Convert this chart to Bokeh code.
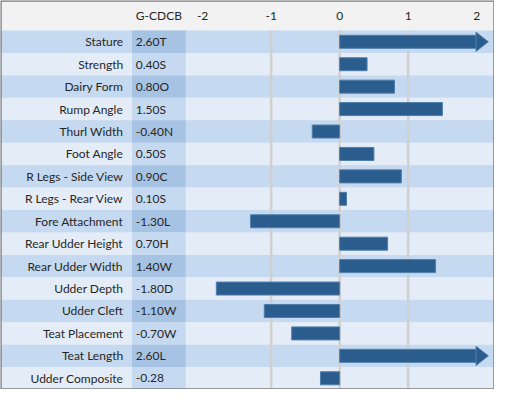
from bokeh.plotting import figure
from bokeh.models import Range1d, ColumnDataSource
from bokeh.core.properties import value
from bokeh.embed import file_html
from bokeh.resources import INLINE

traits = ["Stature", "Strength", "Dairy Form", "Rump Angle", "Thurl Width",
          "Foot Angle", "R Legs - Side View", "R Legs - Rear View",
          "Fore Attachment", "Rear Udder Height", "Rear Udder Width",
          "Udder Depth", "Udder Cleft", "Teat Placement", "Teat Length",
          "Udder Composite"]
scores = [2.60, 0.40, 0.80, 1.50, -0.40, 0.50, 0.90, 0.10, -1.30, 0.70,
          1.40, -1.80, -1.10, -0.70, 2.60, -0.28]
score_labels = ["2.60T", "0.40S", "0.80O", "1.50S", "-0.40N", "0.50S",
                "0.90C", "0.10S", "-1.30L", "0.70H", "1.40W", "-1.80D",
                "-1.10W", "-0.70W", "2.60L", "-0.28"]
axis_ticks = [-2, -1, 0, 1, 2]
grid_ticks = [-1, 0, 1]
column_header = "G-CDCB"

# layout constants (data units)
X0, X1 = -4.95, 2.26
HEAD_TOP = -1.84
CAP = 2.0
TIP = 2.17
LABEL_X = -3.16
VAL_X = -2.975
VCOL_L, VCOL_R = -3.03, -2.2475
BAR_H = 0.58
HEAD_H = 0.43

n = len(traits)
idx = list(range(n))
header_y = (HEAD_TOP + -0.5) / 2

FONT = "Lato"
TXT = "#262626"
DARK = "#c5d9f0"
LIGHT = "#e4ecf7"
VDARK = "#a6c3e3"
VLIGHT = "#c5d9f0"
BAR = "#2b5c8e"
BAR_EDGE = "#4f7eab"

p = figure(width=494, height=389, output_backend="svg", toolbar_location=None,
           x_range=Range1d(X0, X1), y_range=Range1d(n - 0.5, HEAD_TOP),
           min_border=0)
p.background_fill_color = LIGHT
p.border_fill_color = "white"
p.outline_line_color = None
p.grid.visible = False
p.axis.visible = False

# header band
p.hbar(y=[header_y], left=X0 - 1, right=X1 + 1, height=-0.5 - HEAD_TOP,
       color="#f2f2f2", line_color=None)

band_colors = [DARK if i % 2 == 0 else LIGHT for i in idx]
vcol_colors = [VDARK if i % 2 == 0 else VLIGHT for i in idx]
p.hbar(y=idx, left=X0 - 1, right=X1 + 1, height=1.0, color=band_colors, line_color=None)
p.hbar(y=idx, left=VCOL_L, right=VCOL_R, height=1.0, color=vcol_colors, line_color=None)

# gridlines
p.segment(x0=grid_ticks, x1=grid_ticks, y0=[-0.5] * len(grid_ticks),
          y1=[n - 0.5] * len(grid_ticks), line_color="#d0d0d0", line_width=2.5)

right = [min(v, CAP) for v in scores]
src = ColumnDataSource(dict(y=idx, left=[0] * n, right=right))
p.hbar(y="y", left="left", right="right", height=BAR_H, source=src,
       fill_color=BAR, line_color=BAR_EDGE, line_width=1)

xs, ys = [], []
for i, v in enumerate(scores):
    if v > CAP:
        xs.append([CAP - 0.01, CAP - 0.01, TIP])
        ys.append([i - HEAD_H, i + HEAD_H, i])
if xs:
    p.patches(xs=xs, ys=ys, fill_color=BAR, line_color=BAR_EDGE, line_width=1)

# header texts (tick labels)
p.text(x=axis_ticks, y=[header_y] * len(axis_ticks),
       text=[str(t) for t in axis_ticks], text_align="center",
       text_baseline="middle", text_font=value(FONT), text_font_size="12px",
       text_color=TXT)
p.text(x=[VAL_X], y=[header_y], text=[column_header], text_align="left",
       text_baseline="middle", text_font=value(FONT), text_font_size="12px",
       text_color=TXT)

p.text(x=[LABEL_X] * n, y=idx, text=traits, text_align="right",
       text_baseline="middle", text_font=value(FONT), text_font_size="12px",
       text_color=TXT)
p.text(x=[VAL_X] * n, y=idx, text=score_labels, text_align="left",
       text_baseline="middle", text_font=value(FONT), text_font_size="12px",
       text_color=TXT)

# outer border
p.quad(left=[X0], right=[X1], top=[HEAD_TOP], bottom=[n - 0.5],
       fill_color=None, line_color="#7f7f7f", line_width=2.5)

open("out.html", "w").write(file_html(p, INLINE))
